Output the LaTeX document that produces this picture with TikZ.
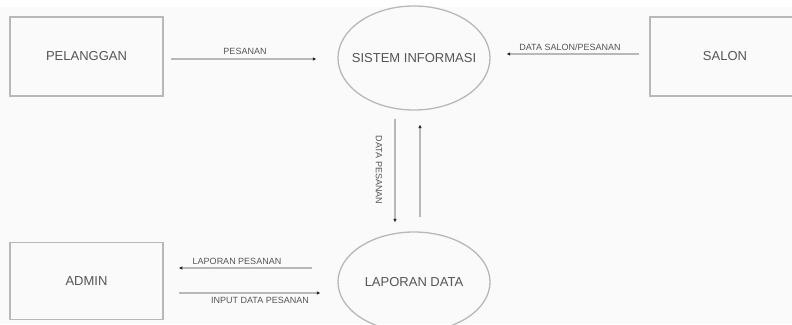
\documentclass[tikz,border=0pt]{standalone}
\usepackage{fontspec}
\setmainfont{Liberation Sans}
\usetikzlibrary{arrows.meta,shapes.geometric}
\definecolor{bgc}{HTML}{FAFAFA}
\definecolor{linec}{HTML}{B8B8B8}
\definecolor{txtc}{HTML}{555555}
\tikzset{
  box/.style={draw=linec, line width=1.6pt, rectangle, minimum width=153pt, minimum height=79pt, inner sep=0pt, text=txtc, font=\fontsize{13}{15}\selectfont},
  proc/.style={draw=linec, line width=1.3pt, ellipse, minimum width=152pt, minimum height=104pt, inner sep=0pt},
  ptext/.style={text=txtc, font=\fontsize{13}{15}\selectfont, inner sep=0pt},
  flow/.style={draw=linec, line width=1.3pt, -{Latex[length=3.5pt,width=3.5pt,color=black!85]}},
  lbl/.style={text=txtc, font=\fontsize{9}{11}\selectfont, inner sep=0pt}
}
\begin{document}
\begin{tikzpicture}[x=1pt,y=-1pt]
\useasboundingbox (0,0) rectangle (792,324);
\fill[white] (0,0) rectangle (792,324);
\fill[bgc] (0,7) rectangle (792,324);
\begin{scope}
\clip (0,0) rectangle (792,324);
\node[box] (pel) at (86.5,56.5) {PELANGGAN};
\node[proc] (si) at (414,58) {};
\node[ptext] (sit) at (si.center) {SISTEM INFORMASI};
\node[box, minimum width=150pt] (salon) at (725,56.5) {SALON};
\node[box, minimum height=77pt] (admin) at (86.5,281) {ADMIN};
\node[proc, minimum height=100pt] (bd) at (414,282) {};
\node[ptext] (bdt) at (bd.center) {LAPORAN DATA};

\draw[flow, shorten <=7pt, shorten >=21pt] ([yshift=-2.5pt]pel.east) -- ([yshift=-1pt]si.west);
\draw[flow, shorten <=10pt, shorten >=16pt] ([yshift=2.5pt]salon.west) -- ([yshift=4pt]si.east);
\draw[flow, shorten <=8pt, shorten >=9pt] ([xshift=-19pt]si.south) -- ([xshift=-19pt]bd.north);
\draw[flow, shorten <=14pt, shorten >=14pt] ([xshift=6pt]bd.north) -- ([xshift=6pt]si.south);
\draw[flow, shorten <=25pt, shorten >=15pt] ([yshift=14pt]bd.west) -- ([yshift=13pt]admin.east);
\draw[flow, shorten <=15pt, shorten >=17pt] ([yshift=-12pt]admin.east) -- ([yshift=-11pt]bd.west);

\node[lbl] (l1) at (245,51) {PESANAN};
\node[lbl] (l2) at (570,47) {DATA SALON/PESANAN};
\node[lbl, rotate=-90] (l3) at (379,170) {DATA PESANAN};
\node[lbl] (l4) at (237,261) {LAPORAN PESANAN};
\node[lbl] (l5) at (260,300) {INPUT DATA PESANAN};
\end{scope}
\end{tikzpicture}
\end{document}
